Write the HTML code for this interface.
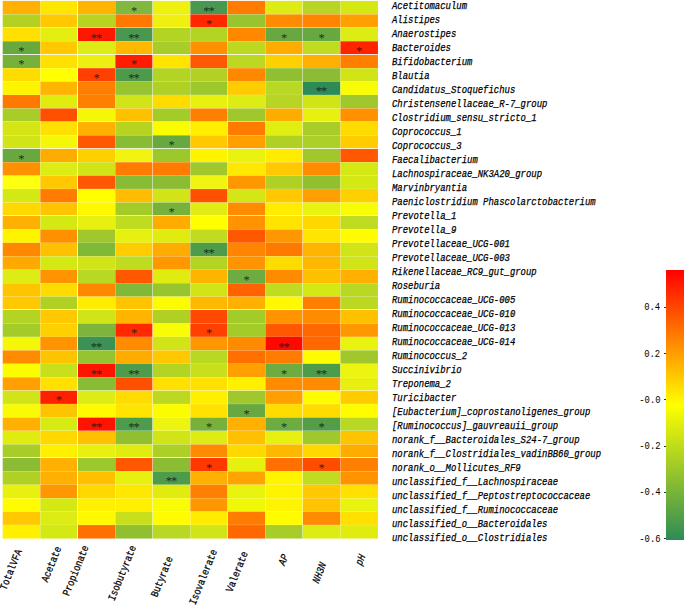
<!DOCTYPE html>
<html><head><meta charset="utf-8"><title>Correlation heatmap</title>
<style>
html,body{margin:0;padding:0;background:#fff;}
body{width:685px;height:606px;position:relative;overflow:hidden;font-family:"Liberation Mono",monospace;color:#000;}
#hm{position:absolute;left:0;top:0;}
.rl{position:absolute;left:391.8px;-webkit-text-stroke:0.25px #000;height:14px;line-height:14px;font-size:10.67px;font-style:italic;white-space:pre;transform:scaleX(.838);transform-origin:0 50%;}
.cl{position:absolute;-webkit-text-stroke:0.25px #000;height:12px;line-height:12px;font-size:10.67px;white-space:pre;transform-origin:100% 50%;}
.tk{position:absolute;right:24.5px;height:12px;line-height:12px;font-size:10.67px;white-space:pre;transform:scaleX(.8333);transform-origin:100% 50%;}
.tm{position:absolute;left:663.5px;width:2.5px;height:1px;background:#333;}
#cb{position:absolute;left:666px;top:269.7px;width:18px;height:270px;background:linear-gradient(to bottom,#ff0000 0%,#ffff00 50%,#2e8b57 100%);}
</style></head><body>
<svg id="hm" width="685" height="606" viewBox="0 0 685 606">
<rect x="2.70" y="0.90" width="37.57" height="13.49" fill="#ffb000"/><rect x="40.22" y="0.90" width="37.57" height="13.49" fill="#ffe600"/><rect x="77.74" y="0.90" width="37.57" height="13.49" fill="#ffb400"/><rect x="115.26" y="0.90" width="37.57" height="13.49" fill="#80b840"/><rect x="152.78" y="0.90" width="37.57" height="13.49" fill="#eef010"/><rect x="190.30" y="0.90" width="37.57" height="13.49" fill="#489850"/><rect x="227.82" y="0.90" width="37.57" height="13.49" fill="#ff7c00"/><rect x="265.34" y="0.90" width="37.57" height="13.49" fill="#dcec14"/><rect x="302.86" y="0.90" width="37.57" height="13.49" fill="#b8d424"/><rect x="340.38" y="0.90" width="37.57" height="13.49" fill="#d4e814"/>
<rect x="2.70" y="14.34" width="37.57" height="13.49" fill="#b4d020"/><rect x="40.22" y="14.34" width="37.57" height="13.49" fill="#ffc800"/><rect x="77.74" y="14.34" width="37.57" height="13.49" fill="#b8d420"/><rect x="115.26" y="14.34" width="37.57" height="13.49" fill="#ff7800"/><rect x="152.78" y="14.34" width="37.57" height="13.49" fill="#f0f010"/><rect x="190.30" y="14.34" width="37.57" height="13.49" fill="#ff2800"/><rect x="227.82" y="14.34" width="37.57" height="13.49" fill="#98c430"/><rect x="265.34" y="14.34" width="37.57" height="13.49" fill="#ff8c00"/><rect x="302.86" y="14.34" width="37.57" height="13.49" fill="#ff8400"/><rect x="340.38" y="14.34" width="37.57" height="13.49" fill="#ffa000"/>
<rect x="2.70" y="27.78" width="37.57" height="13.49" fill="#ffe000"/><rect x="40.22" y="27.78" width="37.57" height="13.49" fill="#e4ee10"/><rect x="77.74" y="27.78" width="37.57" height="13.49" fill="#ff1800"/><rect x="115.26" y="27.78" width="37.57" height="13.49" fill="#4a9850"/><rect x="152.78" y="27.78" width="37.57" height="13.49" fill="#b4d424"/><rect x="190.30" y="27.78" width="37.57" height="13.49" fill="#b4d424"/><rect x="227.82" y="27.78" width="37.57" height="13.49" fill="#ff8800"/><rect x="265.34" y="27.78" width="37.57" height="13.49" fill="#68a840"/><rect x="302.86" y="27.78" width="37.57" height="13.49" fill="#68a840"/><rect x="340.38" y="27.78" width="37.57" height="13.49" fill="#dcec14"/>
<rect x="2.70" y="41.22" width="37.57" height="13.49" fill="#68a840"/><rect x="40.22" y="41.22" width="37.57" height="13.49" fill="#ffc800"/><rect x="77.74" y="41.22" width="37.57" height="13.49" fill="#dcec14"/><rect x="115.26" y="41.22" width="37.57" height="13.49" fill="#ffb800"/><rect x="152.78" y="41.22" width="37.57" height="13.49" fill="#a8cc28"/><rect x="190.30" y="41.22" width="37.57" height="13.49" fill="#ff9000"/><rect x="227.82" y="41.22" width="37.57" height="13.49" fill="#bcd820"/><rect x="265.34" y="41.22" width="37.57" height="13.49" fill="#ffac00"/><rect x="302.86" y="41.22" width="37.57" height="13.49" fill="#c0dc20"/><rect x="340.38" y="41.22" width="37.57" height="13.49" fill="#ff2400"/>
<rect x="2.70" y="54.66" width="37.57" height="13.49" fill="#78b03c"/><rect x="40.22" y="54.66" width="37.57" height="13.49" fill="#ffe000"/><rect x="77.74" y="54.66" width="37.57" height="13.49" fill="#ecf010"/><rect x="115.26" y="54.66" width="37.57" height="13.49" fill="#ff1c00"/><rect x="152.78" y="54.66" width="37.57" height="13.49" fill="#ffe400"/><rect x="190.30" y="54.66" width="37.57" height="13.49" fill="#ff5800"/><rect x="227.82" y="54.66" width="37.57" height="13.49" fill="#bcd820"/><rect x="265.34" y="54.66" width="37.57" height="13.49" fill="#ffd000"/><rect x="302.86" y="54.66" width="37.57" height="13.49" fill="#ffb000"/><rect x="340.38" y="54.66" width="37.57" height="13.49" fill="#ff8000"/>
<rect x="2.70" y="68.10" width="37.57" height="13.49" fill="#ffdc00"/><rect x="40.22" y="68.10" width="37.57" height="13.49" fill="#ffff00"/><rect x="77.74" y="68.10" width="37.57" height="13.49" fill="#ff4000"/><rect x="115.26" y="68.10" width="37.57" height="13.49" fill="#4e9a4c"/><rect x="152.78" y="68.10" width="37.57" height="13.49" fill="#b4d424"/><rect x="190.30" y="68.10" width="37.57" height="13.49" fill="#b4d024"/><rect x="227.82" y="68.10" width="37.57" height="13.49" fill="#ff8800"/><rect x="265.34" y="68.10" width="37.57" height="13.49" fill="#90c030"/><rect x="302.86" y="68.10" width="37.57" height="13.49" fill="#8cbc34"/><rect x="340.38" y="68.10" width="37.57" height="13.49" fill="#d0e418"/>
<rect x="2.70" y="81.54" width="37.57" height="13.49" fill="#fff400"/><rect x="40.22" y="81.54" width="37.57" height="13.49" fill="#ffb400"/><rect x="77.74" y="81.54" width="37.57" height="13.49" fill="#ff8000"/><rect x="115.26" y="81.54" width="37.57" height="13.49" fill="#98c430"/><rect x="152.78" y="81.54" width="37.57" height="13.49" fill="#b0d024"/><rect x="190.30" y="81.54" width="37.57" height="13.49" fill="#9cc82c"/><rect x="227.82" y="81.54" width="37.57" height="13.49" fill="#ffcc00"/><rect x="265.34" y="81.54" width="37.57" height="13.49" fill="#b8d824"/><rect x="302.86" y="81.54" width="37.57" height="13.49" fill="#2e8b57"/><rect x="340.38" y="81.54" width="37.57" height="13.49" fill="#f8fc04"/>
<rect x="2.70" y="94.98" width="37.57" height="13.49" fill="#ff7800"/><rect x="40.22" y="94.98" width="37.57" height="13.49" fill="#e0ec10"/><rect x="77.74" y="94.98" width="37.57" height="13.49" fill="#ff8000"/><rect x="115.26" y="94.98" width="37.57" height="13.49" fill="#d0e418"/><rect x="152.78" y="94.98" width="37.57" height="13.49" fill="#ffdc00"/><rect x="190.30" y="94.98" width="37.57" height="13.49" fill="#e8f010"/><rect x="227.82" y="94.98" width="37.57" height="13.49" fill="#dcec14"/><rect x="265.34" y="94.98" width="37.57" height="13.49" fill="#b8d424"/><rect x="302.86" y="94.98" width="37.57" height="13.49" fill="#d0e418"/><rect x="340.38" y="94.98" width="37.57" height="13.49" fill="#a0c82c"/>
<rect x="2.70" y="108.42" width="37.57" height="13.49" fill="#a8cc28"/><rect x="40.22" y="108.42" width="37.57" height="13.49" fill="#ff5000"/><rect x="77.74" y="108.42" width="37.57" height="13.49" fill="#f4f808"/><rect x="115.26" y="108.42" width="37.57" height="13.49" fill="#ffc000"/><rect x="152.78" y="108.42" width="37.57" height="13.49" fill="#a4cc28"/><rect x="190.30" y="108.42" width="37.57" height="13.49" fill="#ff8000"/><rect x="227.82" y="108.42" width="37.57" height="13.49" fill="#a0c82c"/><rect x="265.34" y="108.42" width="37.57" height="13.49" fill="#ffac00"/><rect x="302.86" y="108.42" width="37.57" height="13.49" fill="#e8f010"/><rect x="340.38" y="108.42" width="37.57" height="13.49" fill="#ff9000"/>
<rect x="2.70" y="121.86" width="37.57" height="13.49" fill="#d4e414"/><rect x="40.22" y="121.86" width="37.57" height="13.49" fill="#ffe000"/><rect x="77.74" y="121.86" width="37.57" height="13.49" fill="#ffb000"/><rect x="115.26" y="121.86" width="37.57" height="13.49" fill="#b8d420"/><rect x="152.78" y="121.86" width="37.57" height="13.49" fill="#fcfc00"/><rect x="190.30" y="121.86" width="37.57" height="13.49" fill="#ffee00"/><rect x="227.82" y="121.86" width="37.57" height="13.49" fill="#ff7c00"/><rect x="265.34" y="121.86" width="37.57" height="13.49" fill="#e0ee10"/><rect x="302.86" y="121.86" width="37.57" height="13.49" fill="#a8cc28"/><rect x="340.38" y="121.86" width="37.57" height="13.49" fill="#ffdc00"/>
<rect x="2.70" y="135.30" width="37.57" height="13.49" fill="#d0e418"/><rect x="40.22" y="135.30" width="37.57" height="13.49" fill="#f4f808"/><rect x="77.74" y="135.30" width="37.57" height="13.49" fill="#ff5800"/><rect x="115.26" y="135.30" width="37.57" height="13.49" fill="#88bc34"/><rect x="152.78" y="135.30" width="37.57" height="13.49" fill="#68a840"/><rect x="190.30" y="135.30" width="37.57" height="13.49" fill="#ffc800"/><rect x="227.82" y="135.30" width="37.57" height="13.49" fill="#ffa000"/><rect x="265.34" y="135.30" width="37.57" height="13.49" fill="#b0d024"/><rect x="302.86" y="135.30" width="37.57" height="13.49" fill="#acd028"/><rect x="340.38" y="135.30" width="37.57" height="13.49" fill="#ffcc00"/>
<rect x="2.70" y="148.74" width="37.57" height="13.49" fill="#68a840"/><rect x="40.22" y="148.74" width="37.57" height="13.49" fill="#ffac00"/><rect x="77.74" y="148.74" width="37.57" height="13.49" fill="#ffd000"/><rect x="115.26" y="148.74" width="37.57" height="13.49" fill="#f0f410"/><rect x="152.78" y="148.74" width="37.57" height="13.49" fill="#9cc82c"/><rect x="190.30" y="148.74" width="37.57" height="13.49" fill="#fff400"/><rect x="227.82" y="148.74" width="37.57" height="13.49" fill="#e8f410"/><rect x="265.34" y="148.74" width="37.57" height="13.49" fill="#ffec00"/><rect x="302.86" y="148.74" width="37.57" height="13.49" fill="#a0c82c"/><rect x="340.38" y="148.74" width="37.57" height="13.49" fill="#ff5800"/>
<rect x="2.70" y="162.18" width="37.57" height="13.49" fill="#ff9000"/><rect x="40.22" y="162.18" width="37.57" height="13.49" fill="#dcec14"/><rect x="77.74" y="162.18" width="37.57" height="13.49" fill="#d0e418"/><rect x="115.26" y="162.18" width="37.57" height="13.49" fill="#ff7c00"/><rect x="152.78" y="162.18" width="37.57" height="13.49" fill="#ff7c00"/><rect x="190.30" y="162.18" width="37.57" height="13.49" fill="#a0c82c"/><rect x="227.82" y="162.18" width="37.57" height="13.49" fill="#ffe800"/><rect x="265.34" y="162.18" width="37.57" height="13.49" fill="#ffc800"/><rect x="302.86" y="162.18" width="37.57" height="13.49" fill="#ff8c00"/><rect x="340.38" y="162.18" width="37.57" height="13.49" fill="#d4e814"/>
<rect x="2.70" y="175.62" width="37.57" height="13.49" fill="#ffff10"/><rect x="40.22" y="175.62" width="37.57" height="13.49" fill="#ffc800"/><rect x="77.74" y="175.62" width="37.57" height="13.49" fill="#ff5800"/><rect x="115.26" y="175.62" width="37.57" height="13.49" fill="#88bc34"/><rect x="152.78" y="175.62" width="37.57" height="13.49" fill="#8cbc34"/><rect x="190.30" y="175.62" width="37.57" height="13.49" fill="#f0f410"/><rect x="227.82" y="175.62" width="37.57" height="13.49" fill="#ff9800"/><rect x="265.34" y="175.62" width="37.57" height="13.49" fill="#b0d024"/><rect x="302.86" y="175.62" width="37.57" height="13.49" fill="#90c030"/><rect x="340.38" y="175.62" width="37.57" height="13.49" fill="#d4e814"/>
<rect x="2.70" y="189.06" width="37.57" height="13.49" fill="#d4e814"/><rect x="40.22" y="189.06" width="37.57" height="13.49" fill="#ff7c00"/><rect x="77.74" y="189.06" width="37.57" height="13.49" fill="#ffff00"/><rect x="115.26" y="189.06" width="37.57" height="13.49" fill="#ffbc00"/><rect x="152.78" y="189.06" width="37.57" height="13.49" fill="#d0e418"/><rect x="190.30" y="189.06" width="37.57" height="13.49" fill="#ff5000"/><rect x="227.82" y="189.06" width="37.57" height="13.49" fill="#d4e616"/><rect x="265.34" y="189.06" width="37.57" height="13.49" fill="#ffc800"/><rect x="302.86" y="189.06" width="37.57" height="13.49" fill="#ffa000"/><rect x="340.38" y="189.06" width="37.57" height="13.49" fill="#ffd000"/>
<rect x="2.70" y="202.50" width="37.57" height="13.49" fill="#ffd800"/><rect x="40.22" y="202.50" width="37.57" height="13.49" fill="#ffc400"/><rect x="77.74" y="202.50" width="37.57" height="13.49" fill="#fff800"/><rect x="115.26" y="202.50" width="37.57" height="13.49" fill="#a4cc28"/><rect x="152.78" y="202.50" width="37.57" height="13.49" fill="#78b03c"/><rect x="190.30" y="202.50" width="37.57" height="13.49" fill="#e0ec14"/><rect x="227.82" y="202.50" width="37.57" height="13.49" fill="#ff8c00"/><rect x="265.34" y="202.50" width="37.57" height="13.49" fill="#ffec00"/><rect x="302.86" y="202.50" width="37.57" height="13.49" fill="#e8f410"/><rect x="340.38" y="202.50" width="37.57" height="13.49" fill="#f8fc04"/>
<rect x="2.70" y="215.94" width="37.57" height="13.49" fill="#ffb000"/><rect x="40.22" y="215.94" width="37.57" height="13.49" fill="#d4e814"/><rect x="77.74" y="215.94" width="37.57" height="13.49" fill="#e8f010"/><rect x="115.26" y="215.94" width="37.57" height="13.49" fill="#c0dc20"/><rect x="152.78" y="215.94" width="37.57" height="13.49" fill="#ffac00"/><rect x="190.30" y="215.94" width="37.57" height="13.49" fill="#ffff00"/><rect x="227.82" y="215.94" width="37.57" height="13.49" fill="#ff9400"/><rect x="265.34" y="215.94" width="37.57" height="13.49" fill="#ffe400"/><rect x="302.86" y="215.94" width="37.57" height="13.49" fill="#ffd800"/><rect x="340.38" y="215.94" width="37.57" height="13.49" fill="#c0dc20"/>
<rect x="2.70" y="229.38" width="37.57" height="13.49" fill="#fff400"/><rect x="40.22" y="229.38" width="37.57" height="13.49" fill="#ff9000"/><rect x="77.74" y="229.38" width="37.57" height="13.49" fill="#a0c82c"/><rect x="115.26" y="229.38" width="37.57" height="13.49" fill="#e8f010"/><rect x="152.78" y="229.38" width="37.57" height="13.49" fill="#e0ec10"/><rect x="190.30" y="229.38" width="37.57" height="13.49" fill="#c0dc20"/><rect x="227.82" y="229.38" width="37.57" height="13.49" fill="#ff5800"/><rect x="265.34" y="229.38" width="37.57" height="13.49" fill="#ff9800"/><rect x="302.86" y="229.38" width="37.57" height="13.49" fill="#ffe600"/><rect x="340.38" y="229.38" width="37.57" height="13.49" fill="#fffc00"/>
<rect x="2.70" y="242.82" width="37.57" height="13.49" fill="#ff8800"/><rect x="40.22" y="242.82" width="37.57" height="13.49" fill="#ffc000"/><rect x="77.74" y="242.82" width="37.57" height="13.49" fill="#80b838"/><rect x="115.26" y="242.82" width="37.57" height="13.49" fill="#ffcc00"/><rect x="152.78" y="242.82" width="37.57" height="13.49" fill="#ffac00"/><rect x="190.30" y="242.82" width="37.57" height="13.49" fill="#4c9c4c"/><rect x="227.82" y="242.82" width="37.57" height="13.49" fill="#ff8400"/><rect x="265.34" y="242.82" width="37.57" height="13.49" fill="#ff7800"/><rect x="302.86" y="242.82" width="37.57" height="13.49" fill="#ffb400"/><rect x="340.38" y="242.82" width="37.57" height="13.49" fill="#d0e418"/>
<rect x="2.70" y="256.26" width="37.57" height="13.49" fill="#ffa800"/><rect x="40.22" y="256.26" width="37.57" height="13.49" fill="#d4e814"/><rect x="77.74" y="256.26" width="37.57" height="13.49" fill="#d0e418"/><rect x="115.26" y="256.26" width="37.57" height="13.49" fill="#c0dc20"/><rect x="152.78" y="256.26" width="37.57" height="13.49" fill="#ff9800"/><rect x="190.30" y="256.26" width="37.57" height="13.49" fill="#b4d424"/><rect x="227.82" y="256.26" width="37.57" height="13.49" fill="#ff9400"/><rect x="265.34" y="256.26" width="37.57" height="13.49" fill="#ffdc00"/><rect x="302.86" y="256.26" width="37.57" height="13.49" fill="#ffb800"/><rect x="340.38" y="256.26" width="37.57" height="13.49" fill="#d0e418"/>
<rect x="2.70" y="269.70" width="37.57" height="13.49" fill="#dcec14"/><rect x="40.22" y="269.70" width="37.57" height="13.49" fill="#ff9400"/><rect x="77.74" y="269.70" width="37.57" height="13.49" fill="#b8d824"/><rect x="115.26" y="269.70" width="37.57" height="13.49" fill="#ff5800"/><rect x="152.78" y="269.70" width="37.57" height="13.49" fill="#e0ec10"/><rect x="190.30" y="269.70" width="37.57" height="13.49" fill="#ffb400"/><rect x="227.82" y="269.70" width="37.57" height="13.49" fill="#6cac40"/><rect x="265.34" y="269.70" width="37.57" height="13.49" fill="#ff8c00"/><rect x="302.86" y="269.70" width="37.57" height="13.49" fill="#ffc000"/><rect x="340.38" y="269.70" width="37.57" height="13.49" fill="#ffb000"/>
<rect x="2.70" y="283.14" width="37.57" height="13.49" fill="#ffc400"/><rect x="40.22" y="283.14" width="37.57" height="13.49" fill="#ffdc00"/><rect x="77.74" y="283.14" width="37.57" height="13.49" fill="#ff8800"/><rect x="115.26" y="283.14" width="37.57" height="13.49" fill="#80b838"/><rect x="152.78" y="283.14" width="37.57" height="13.49" fill="#98c430"/><rect x="190.30" y="283.14" width="37.57" height="13.49" fill="#d0e418"/><rect x="227.82" y="283.14" width="37.57" height="13.49" fill="#ff6200"/><rect x="265.34" y="283.14" width="37.57" height="13.49" fill="#c0dc20"/><rect x="302.86" y="283.14" width="37.57" height="13.49" fill="#d4e814"/><rect x="340.38" y="283.14" width="37.57" height="13.49" fill="#b8d824"/>
<rect x="2.70" y="296.58" width="37.57" height="13.49" fill="#ffc800"/><rect x="40.22" y="296.58" width="37.57" height="13.49" fill="#b0d024"/><rect x="77.74" y="296.58" width="37.57" height="13.49" fill="#ffec00"/><rect x="115.26" y="296.58" width="37.57" height="13.49" fill="#ffc400"/><rect x="152.78" y="296.58" width="37.57" height="13.49" fill="#fcfc00"/><rect x="190.30" y="296.58" width="37.57" height="13.49" fill="#ffb800"/><rect x="227.82" y="296.58" width="37.57" height="13.49" fill="#ffb000"/><rect x="265.34" y="296.58" width="37.57" height="13.49" fill="#fff800"/><rect x="302.86" y="296.58" width="37.57" height="13.49" fill="#ff8000"/><rect x="340.38" y="296.58" width="37.57" height="13.49" fill="#bcd820"/>
<rect x="2.70" y="310.02" width="37.57" height="13.49" fill="#b4d424"/><rect x="40.22" y="310.02" width="37.57" height="13.49" fill="#ffc800"/><rect x="77.74" y="310.02" width="37.57" height="13.49" fill="#d0e418"/><rect x="115.26" y="310.02" width="37.57" height="13.49" fill="#ffb400"/><rect x="152.78" y="310.02" width="37.57" height="13.49" fill="#b0d024"/><rect x="190.30" y="310.02" width="37.57" height="13.49" fill="#ff4800"/><rect x="227.82" y="310.02" width="37.57" height="13.49" fill="#a4cc28"/><rect x="265.34" y="310.02" width="37.57" height="13.49" fill="#ff9400"/><rect x="302.86" y="310.02" width="37.57" height="13.49" fill="#ff8c00"/><rect x="340.38" y="310.02" width="37.57" height="13.49" fill="#ffc000"/>
<rect x="2.70" y="323.46" width="37.57" height="13.49" fill="#a4cc28"/><rect x="40.22" y="323.46" width="37.57" height="13.49" fill="#ffd000"/><rect x="77.74" y="323.46" width="37.57" height="13.49" fill="#7cb43c"/><rect x="115.26" y="323.46" width="37.57" height="13.49" fill="#ff2800"/><rect x="152.78" y="323.46" width="37.57" height="13.49" fill="#f8fc04"/><rect x="190.30" y="323.46" width="37.57" height="13.49" fill="#ff4000"/><rect x="227.82" y="323.46" width="37.57" height="13.49" fill="#a4cc28"/><rect x="265.34" y="323.46" width="37.57" height="13.49" fill="#ff5800"/><rect x="302.86" y="323.46" width="37.57" height="13.49" fill="#ff6800"/><rect x="340.38" y="323.46" width="37.57" height="13.49" fill="#ff9800"/>
<rect x="2.70" y="336.90" width="37.57" height="13.49" fill="#f4f808"/><rect x="40.22" y="336.90" width="37.57" height="13.49" fill="#ff9400"/><rect x="77.74" y="336.90" width="37.57" height="13.49" fill="#3c9256"/><rect x="115.26" y="336.90" width="37.57" height="13.49" fill="#ff8c00"/><rect x="152.78" y="336.90" width="37.57" height="13.49" fill="#d0e418"/><rect x="190.30" y="336.90" width="37.57" height="13.49" fill="#ff9800"/><rect x="227.82" y="336.90" width="37.57" height="13.49" fill="#ff8c00"/><rect x="265.34" y="336.90" width="37.57" height="13.49" fill="#ff0800"/><rect x="302.86" y="336.90" width="37.57" height="13.49" fill="#ff6800"/><rect x="340.38" y="336.90" width="37.57" height="13.49" fill="#e8f410"/>
<rect x="2.70" y="350.34" width="37.57" height="13.49" fill="#ff8c00"/><rect x="40.22" y="350.34" width="37.57" height="13.49" fill="#ffc400"/><rect x="77.74" y="350.34" width="37.57" height="13.49" fill="#96c430"/><rect x="115.26" y="350.34" width="37.57" height="13.49" fill="#ffac00"/><rect x="152.78" y="350.34" width="37.57" height="13.49" fill="#ffc800"/><rect x="190.30" y="350.34" width="37.57" height="13.49" fill="#b8d824"/><rect x="227.82" y="350.34" width="37.57" height="13.49" fill="#ff7000"/><rect x="265.34" y="350.34" width="37.57" height="13.49" fill="#ff7c00"/><rect x="302.86" y="350.34" width="37.57" height="13.49" fill="#fffc00"/><rect x="340.38" y="350.34" width="37.57" height="13.49" fill="#a0c82c"/>
<rect x="2.70" y="363.78" width="37.57" height="13.49" fill="#fcfc00"/><rect x="40.22" y="363.78" width="37.57" height="13.49" fill="#c8e01c"/><rect x="77.74" y="363.78" width="37.57" height="13.49" fill="#ff1400"/><rect x="115.26" y="363.78" width="37.57" height="13.49" fill="#4c9c4c"/><rect x="152.78" y="363.78" width="37.57" height="13.49" fill="#b4d424"/><rect x="190.30" y="363.78" width="37.57" height="13.49" fill="#c8e01c"/><rect x="227.82" y="363.78" width="37.57" height="13.49" fill="#ffa000"/><rect x="265.34" y="363.78" width="37.57" height="13.49" fill="#6cac40"/><rect x="302.86" y="363.78" width="37.57" height="13.49" fill="#4c9c4c"/><rect x="340.38" y="363.78" width="37.57" height="13.49" fill="#ecf410"/>
<rect x="2.70" y="377.22" width="37.57" height="13.49" fill="#ffa000"/><rect x="40.22" y="377.22" width="37.57" height="13.49" fill="#ffe000"/><rect x="77.74" y="377.22" width="37.57" height="13.49" fill="#88bc34"/><rect x="115.26" y="377.22" width="37.57" height="13.49" fill="#ff5000"/><rect x="152.78" y="377.22" width="37.57" height="13.49" fill="#ffe000"/><rect x="190.30" y="377.22" width="37.57" height="13.49" fill="#ffe000"/><rect x="227.82" y="377.22" width="37.57" height="13.49" fill="#fff000"/><rect x="265.34" y="377.22" width="37.57" height="13.49" fill="#ff8c00"/><rect x="302.86" y="377.22" width="37.57" height="13.49" fill="#ff8c00"/><rect x="340.38" y="377.22" width="37.57" height="13.49" fill="#e6ef10"/>
<rect x="2.70" y="390.66" width="37.57" height="13.49" fill="#d0e418"/><rect x="40.22" y="390.66" width="37.57" height="13.49" fill="#ff2000"/><rect x="77.74" y="390.66" width="37.57" height="13.49" fill="#dcec14"/><rect x="115.26" y="390.66" width="37.57" height="13.49" fill="#ffdc00"/><rect x="152.78" y="390.66" width="37.57" height="13.49" fill="#bcd820"/><rect x="190.30" y="390.66" width="37.57" height="13.49" fill="#fff000"/><rect x="227.82" y="390.66" width="37.57" height="13.49" fill="#a0c82c"/><rect x="265.34" y="390.66" width="37.57" height="13.49" fill="#ffa000"/><rect x="302.86" y="390.66" width="37.57" height="13.49" fill="#fffc00"/><rect x="340.38" y="390.66" width="37.57" height="13.49" fill="#ffcc00"/>
<rect x="2.70" y="404.10" width="37.57" height="13.49" fill="#f8fa06"/><rect x="40.22" y="404.10" width="37.57" height="13.49" fill="#ffc400"/><rect x="77.74" y="404.10" width="37.57" height="13.49" fill="#fffa00"/><rect x="115.26" y="404.10" width="37.57" height="13.49" fill="#ffe400"/><rect x="152.78" y="404.10" width="37.57" height="13.49" fill="#fcfc00"/><rect x="190.30" y="404.10" width="37.57" height="13.49" fill="#ffe200"/><rect x="227.82" y="404.10" width="37.57" height="13.49" fill="#68a840"/><rect x="265.34" y="404.10" width="37.57" height="13.49" fill="#ffdc00"/><rect x="302.86" y="404.10" width="37.57" height="13.49" fill="#ffdc00"/><rect x="340.38" y="404.10" width="37.57" height="13.49" fill="#fffc00"/>
<rect x="2.70" y="417.54" width="37.57" height="13.49" fill="#ffb000"/><rect x="40.22" y="417.54" width="37.57" height="13.49" fill="#d8ea14"/><rect x="77.74" y="417.54" width="37.57" height="13.49" fill="#ff1400"/><rect x="115.26" y="417.54" width="37.57" height="13.49" fill="#4c9c4c"/><rect x="152.78" y="417.54" width="37.57" height="13.49" fill="#ecf410"/><rect x="190.30" y="417.54" width="37.57" height="13.49" fill="#78b03c"/><rect x="227.82" y="417.54" width="37.57" height="13.49" fill="#ffb000"/><rect x="265.34" y="417.54" width="37.57" height="13.49" fill="#6cac40"/><rect x="302.86" y="417.54" width="37.57" height="13.49" fill="#549c48"/><rect x="340.38" y="417.54" width="37.57" height="13.49" fill="#b8d824"/>
<rect x="2.70" y="430.98" width="37.57" height="13.49" fill="#e0ec10"/><rect x="40.22" y="430.98" width="37.57" height="13.49" fill="#ffd800"/><rect x="77.74" y="430.98" width="37.57" height="13.49" fill="#ffc000"/><rect x="115.26" y="430.98" width="37.57" height="13.49" fill="#90c030"/><rect x="152.78" y="430.98" width="37.57" height="13.49" fill="#d0e418"/><rect x="190.30" y="430.98" width="37.57" height="13.49" fill="#dcec14"/><rect x="227.82" y="430.98" width="37.57" height="13.49" fill="#ffc000"/><rect x="265.34" y="430.98" width="37.57" height="13.49" fill="#e8f010"/><rect x="302.86" y="430.98" width="37.57" height="13.49" fill="#a0c82c"/><rect x="340.38" y="430.98" width="37.57" height="13.49" fill="#ffc400"/>
<rect x="2.70" y="444.42" width="37.57" height="13.49" fill="#a8cc28"/><rect x="40.22" y="444.42" width="37.57" height="13.49" fill="#fff000"/><rect x="77.74" y="444.42" width="37.57" height="13.49" fill="#e8f010"/><rect x="115.26" y="444.42" width="37.57" height="13.49" fill="#e0ec10"/><rect x="152.78" y="444.42" width="37.57" height="13.49" fill="#acd026"/><rect x="190.30" y="444.42" width="37.57" height="13.49" fill="#ff8c00"/><rect x="227.82" y="444.42" width="37.57" height="13.49" fill="#ffd800"/><rect x="265.34" y="444.42" width="37.57" height="13.49" fill="#ffb800"/><rect x="302.86" y="444.42" width="37.57" height="13.49" fill="#ffd800"/><rect x="340.38" y="444.42" width="37.57" height="13.49" fill="#ffac00"/>
<rect x="2.70" y="457.86" width="37.57" height="13.49" fill="#8cbc34"/><rect x="40.22" y="457.86" width="37.57" height="13.49" fill="#ffb000"/><rect x="77.74" y="457.86" width="37.57" height="13.49" fill="#9cc82c"/><rect x="115.26" y="457.86" width="37.57" height="13.49" fill="#ff5800"/><rect x="152.78" y="457.86" width="37.57" height="13.49" fill="#8cbc34"/><rect x="190.30" y="457.86" width="37.57" height="13.49" fill="#ff3800"/><rect x="227.82" y="457.86" width="37.57" height="13.49" fill="#e8f010"/><rect x="265.34" y="457.86" width="37.57" height="13.49" fill="#ff7000"/><rect x="302.86" y="457.86" width="37.57" height="13.49" fill="#ff4c00"/><rect x="340.38" y="457.86" width="37.57" height="13.49" fill="#ff8000"/>
<rect x="2.70" y="471.30" width="37.57" height="13.49" fill="#b0d024"/><rect x="40.22" y="471.30" width="37.57" height="13.49" fill="#ffb000"/><rect x="77.74" y="471.30" width="37.57" height="13.49" fill="#ffc000"/><rect x="115.26" y="471.30" width="37.57" height="13.49" fill="#e8f010"/><rect x="152.78" y="471.30" width="37.57" height="13.49" fill="#4c9c4c"/><rect x="190.30" y="471.30" width="37.57" height="13.49" fill="#ffb000"/><rect x="227.82" y="471.30" width="37.57" height="13.49" fill="#ffa400"/><rect x="265.34" y="471.30" width="37.57" height="13.49" fill="#fff400"/><rect x="302.86" y="471.30" width="37.57" height="13.49" fill="#c0dc20"/><rect x="340.38" y="471.30" width="37.57" height="13.49" fill="#ff9400"/>
<rect x="2.70" y="484.74" width="37.57" height="13.49" fill="#e8f010"/><rect x="40.22" y="484.74" width="37.57" height="13.49" fill="#ff9800"/><rect x="77.74" y="484.74" width="37.57" height="13.49" fill="#ffd800"/><rect x="115.26" y="484.74" width="37.57" height="13.49" fill="#ffe800"/><rect x="152.78" y="484.74" width="37.57" height="13.49" fill="#e0ec10"/><rect x="190.30" y="484.74" width="37.57" height="13.49" fill="#ff8000"/><rect x="227.82" y="484.74" width="37.57" height="13.49" fill="#e8f410"/><rect x="265.34" y="484.74" width="37.57" height="13.49" fill="#fff400"/><rect x="302.86" y="484.74" width="37.57" height="13.49" fill="#ffc800"/><rect x="340.38" y="484.74" width="37.57" height="13.49" fill="#ffe000"/>
<rect x="2.70" y="498.18" width="37.57" height="13.49" fill="#fffc00"/><rect x="40.22" y="498.18" width="37.57" height="13.49" fill="#d4e814"/><rect x="77.74" y="498.18" width="37.57" height="13.49" fill="#fff000"/><rect x="115.26" y="498.18" width="37.57" height="13.49" fill="#fff000"/><rect x="152.78" y="498.18" width="37.57" height="13.49" fill="#f8fc04"/><rect x="190.30" y="498.18" width="37.57" height="13.49" fill="#ff9800"/><rect x="227.82" y="498.18" width="37.57" height="13.49" fill="#f0f808"/><rect x="265.34" y="498.18" width="37.57" height="13.49" fill="#fff400"/><rect x="302.86" y="498.18" width="37.57" height="13.49" fill="#ffc400"/><rect x="340.38" y="498.18" width="37.57" height="13.49" fill="#e8f410"/>
<rect x="2.70" y="511.62" width="37.57" height="13.49" fill="#ffc800"/><rect x="40.22" y="511.62" width="37.57" height="13.49" fill="#dcec14"/><rect x="77.74" y="511.62" width="37.57" height="13.49" fill="#fff800"/><rect x="115.26" y="511.62" width="37.57" height="13.49" fill="#c8e01c"/><rect x="152.78" y="511.62" width="37.57" height="13.49" fill="#fffc00"/><rect x="190.30" y="511.62" width="37.57" height="13.49" fill="#ffec00"/><rect x="227.82" y="511.62" width="37.57" height="13.49" fill="#ff7c00"/><rect x="265.34" y="511.62" width="37.57" height="13.49" fill="#fffc00"/><rect x="302.86" y="511.62" width="37.57" height="13.49" fill="#ff8c00"/><rect x="340.38" y="511.62" width="37.57" height="13.49" fill="#ffe000"/>
<rect x="2.70" y="525.06" width="37.57" height="13.49" fill="#fff000"/><rect x="40.22" y="525.06" width="37.57" height="13.49" fill="#d4e814"/><rect x="77.74" y="525.06" width="37.57" height="13.49" fill="#ff7000"/><rect x="115.26" y="525.06" width="37.57" height="13.49" fill="#90c030"/><rect x="152.78" y="525.06" width="37.57" height="13.49" fill="#b8d824"/><rect x="190.30" y="525.06" width="37.57" height="13.49" fill="#d0e418"/><rect x="227.82" y="525.06" width="37.57" height="13.49" fill="#ff6800"/><rect x="265.34" y="525.06" width="37.57" height="13.49" fill="#a8cc28"/><rect x="302.86" y="525.06" width="37.57" height="13.49" fill="#dcec14"/><rect x="340.38" y="525.06" width="37.57" height="13.49" fill="#e0ec10"/>
<g fill="#fff">
<rect x="40.00" y="0.90" width="1" height="537.60" fill-opacity="0.12"/><rect x="77.00" y="0.90" width="1" height="537.60" fill-opacity="0.85"/><rect x="115.00" y="0.90" width="1" height="537.60" fill-opacity="0.12"/><rect x="152.00" y="0.90" width="1" height="537.60" fill-opacity="0.45"/><rect x="190.00" y="0.90" width="1" height="537.60" fill-opacity="0.12"/><rect x="227.00" y="0.90" width="1" height="537.60" fill-opacity="0.45"/><rect x="265.00" y="0.90" width="1" height="537.60" fill-opacity="0.12"/><rect x="302.00" y="0.90" width="1" height="537.60" fill-opacity="0.45"/><rect x="340.00" y="0.90" width="1" height="537.60" fill-opacity="0.12"/>
<rect x="2.70" y="14.00" width="375.20" height="1" fill-opacity="0.10"/><rect x="2.70" y="27.00" width="375.20" height="1" fill-opacity="0.45"/><rect x="2.70" y="41.00" width="375.20" height="1" fill-opacity="0.10"/><rect x="2.70" y="54.00" width="375.20" height="1" fill-opacity="0.80"/><rect x="2.70" y="68.00" width="375.20" height="1" fill-opacity="0.10"/><rect x="2.70" y="81.00" width="375.20" height="1" fill-opacity="0.10"/><rect x="2.70" y="94.00" width="375.20" height="1" fill-opacity="0.10"/><rect x="2.70" y="108.00" width="375.20" height="1" fill-opacity="0.10"/><rect x="2.70" y="121.00" width="375.20" height="1" fill-opacity="0.45"/><rect x="2.70" y="135.00" width="375.20" height="1" fill-opacity="0.10"/><rect x="2.70" y="148.00" width="375.20" height="1" fill-opacity="0.75"/><rect x="2.70" y="162.00" width="375.20" height="1" fill-opacity="0.10"/><rect x="2.70" y="175.00" width="375.20" height="1" fill-opacity="0.10"/><rect x="2.70" y="188.00" width="375.20" height="1" fill-opacity="0.10"/><rect x="2.70" y="202.00" width="375.20" height="1" fill-opacity="0.10"/><rect x="2.70" y="215.00" width="375.20" height="1" fill-opacity="0.70"/><rect x="2.70" y="229.00" width="375.20" height="1" fill-opacity="0.10"/><rect x="2.70" y="242.00" width="375.20" height="1" fill-opacity="0.10"/><rect x="2.70" y="256.00" width="375.20" height="1" fill-opacity="0.10"/><rect x="2.70" y="269.00" width="375.20" height="1" fill-opacity="0.10"/><rect x="2.70" y="283.00" width="375.20" height="1" fill-opacity="0.10"/><rect x="2.70" y="296.00" width="375.20" height="1" fill-opacity="0.10"/><rect x="2.70" y="309.00" width="375.20" height="1" fill-opacity="0.75"/><rect x="2.70" y="323.00" width="375.20" height="1" fill-opacity="0.10"/><rect x="2.70" y="336.00" width="375.20" height="1" fill-opacity="0.10"/><rect x="2.70" y="350.00" width="375.20" height="1" fill-opacity="0.10"/><rect x="2.70" y="363.00" width="375.20" height="1" fill-opacity="0.10"/><rect x="2.70" y="377.00" width="375.20" height="1" fill-opacity="0.10"/><rect x="2.70" y="390.00" width="375.20" height="1" fill-opacity="0.40"/><rect x="2.70" y="403.00" width="375.20" height="1" fill-opacity="0.10"/><rect x="2.70" y="417.00" width="375.20" height="1" fill-opacity="0.10"/><rect x="2.70" y="430.00" width="375.20" height="1" fill-opacity="0.30"/><rect x="2.70" y="444.00" width="375.20" height="1" fill-opacity="0.10"/><rect x="2.70" y="457.00" width="375.20" height="1" fill-opacity="0.80"/><rect x="2.70" y="471.00" width="375.20" height="1" fill-opacity="0.10"/><rect x="2.70" y="484.00" width="375.20" height="1" fill-opacity="0.10"/><rect x="2.70" y="498.00" width="375.20" height="1" fill-opacity="0.10"/><rect x="2.70" y="511.00" width="375.20" height="1" fill-opacity="0.10"/><rect x="2.70" y="524.00" width="375.20" height="1" fill-opacity="0.10"/>
</g>
<g font-family="Liberation Serif, serif" font-size="12.5" text-anchor="middle" fill="#1a1a1a" fill-opacity="0.9">
<text x="134.02" y="14.72" textLength="5.8" lengthAdjust="spacing">*</text>
<text x="209.06" y="14.72" textLength="11.5" lengthAdjust="spacing">**</text>
<text x="209.06" y="28.16" textLength="5.8" lengthAdjust="spacing">*</text>
<text x="96.50" y="41.60" textLength="11.5" lengthAdjust="spacing">**</text>
<text x="134.02" y="41.60" textLength="11.5" lengthAdjust="spacing">**</text>
<text x="284.10" y="41.60" textLength="5.8" lengthAdjust="spacing">*</text>
<text x="321.62" y="41.60" textLength="5.8" lengthAdjust="spacing">*</text>
<text x="21.46" y="55.04" textLength="5.8" lengthAdjust="spacing">*</text>
<text x="359.14" y="55.04" textLength="5.8" lengthAdjust="spacing">*</text>
<text x="21.46" y="68.48" textLength="5.8" lengthAdjust="spacing">*</text>
<text x="134.02" y="68.48" textLength="5.8" lengthAdjust="spacing">*</text>
<text x="96.50" y="81.92" textLength="5.8" lengthAdjust="spacing">*</text>
<text x="134.02" y="81.92" textLength="11.5" lengthAdjust="spacing">**</text>
<text x="321.62" y="95.36" textLength="11.5" lengthAdjust="spacing">**</text>
<text x="171.54" y="149.12" textLength="5.8" lengthAdjust="spacing">*</text>
<text x="21.46" y="162.56" textLength="5.8" lengthAdjust="spacing">*</text>
<text x="171.54" y="216.32" textLength="5.8" lengthAdjust="spacing">*</text>
<text x="209.06" y="256.64" textLength="11.5" lengthAdjust="spacing">**</text>
<text x="246.58" y="283.52" textLength="5.8" lengthAdjust="spacing">*</text>
<text x="134.02" y="337.28" textLength="5.8" lengthAdjust="spacing">*</text>
<text x="209.06" y="337.28" textLength="5.8" lengthAdjust="spacing">*</text>
<text x="96.50" y="350.72" textLength="11.5" lengthAdjust="spacing">**</text>
<text x="284.10" y="350.72" textLength="11.5" lengthAdjust="spacing">**</text>
<text x="96.50" y="377.60" textLength="11.5" lengthAdjust="spacing">**</text>
<text x="134.02" y="377.60" textLength="11.5" lengthAdjust="spacing">**</text>
<text x="284.10" y="377.60" textLength="5.8" lengthAdjust="spacing">*</text>
<text x="321.62" y="377.60" textLength="11.5" lengthAdjust="spacing">**</text>
<text x="58.98" y="404.48" textLength="5.8" lengthAdjust="spacing">*</text>
<text x="246.58" y="417.92" textLength="5.8" lengthAdjust="spacing">*</text>
<text x="96.50" y="431.36" textLength="11.5" lengthAdjust="spacing">**</text>
<text x="134.02" y="431.36" textLength="11.5" lengthAdjust="spacing">**</text>
<text x="209.06" y="431.36" textLength="5.8" lengthAdjust="spacing">*</text>
<text x="284.10" y="431.36" textLength="5.8" lengthAdjust="spacing">*</text>
<text x="321.62" y="431.36" textLength="5.8" lengthAdjust="spacing">*</text>
<text x="209.06" y="471.68" textLength="5.8" lengthAdjust="spacing">*</text>
<text x="321.62" y="471.68" textLength="5.8" lengthAdjust="spacing">*</text>
<text x="171.54" y="485.12" textLength="11.5" lengthAdjust="spacing">**</text>
</g>
</svg>
<div class="rl" style="top:-1.40px">Acetitomaculum</div>
<div class="rl" style="top:12.61px">Alistipes</div>
<div class="rl" style="top:26.62px">Anaerostipes</div>
<div class="rl" style="top:40.62px">Bacteroides</div>
<div class="rl" style="top:54.63px">Bifidobacterium</div>
<div class="rl" style="top:68.64px">Blautia</div>
<div class="rl" style="top:82.65px">Candidatus_Stoquefichus</div>
<div class="rl" style="top:96.66px">Christensenellaceae_R-7_group</div>
<div class="rl" style="top:110.66px">Clostridium_sensu_stricto_1</div>
<div class="rl" style="top:124.67px">Coprococcus_1</div>
<div class="rl" style="top:138.68px">Coprococcus_3</div>
<div class="rl" style="top:152.69px">Faecalibacterium</div>
<div class="rl" style="top:166.70px">Lachnospiraceae_NK3A20_group</div>
<div class="rl" style="top:180.70px">Marvinbryantia</div>
<div class="rl" style="top:194.71px">Paeniclostridium Phascolarctobacterium</div>
<div class="rl" style="top:208.72px">Prevotella_1</div>
<div class="rl" style="top:222.73px">Prevotella_9</div>
<div class="rl" style="top:236.74px">Prevotellaceae_UCG-001</div>
<div class="rl" style="top:250.74px">Prevotellaceae_UCG-003</div>
<div class="rl" style="top:264.75px">Rikenellaceae_RC9_gut_group</div>
<div class="rl" style="top:278.76px">Roseburia</div>
<div class="rl" style="top:292.77px">Ruminococcaceae_UCG-005</div>
<div class="rl" style="top:306.78px">Ruminococcaceae_UCG-010</div>
<div class="rl" style="top:320.78px">Ruminococcaceae_UCG-013</div>
<div class="rl" style="top:334.79px">Ruminococcaceae_UCG-014</div>
<div class="rl" style="top:348.80px">Ruminococcus_2</div>
<div class="rl" style="top:362.81px">Succinivibrio</div>
<div class="rl" style="top:376.82px">Treponema_2</div>
<div class="rl" style="top:390.82px">Turicibacter</div>
<div class="rl" style="top:404.83px">[Eubacterium]_coprostanoligenes_group</div>
<div class="rl" style="top:418.84px">[Ruminococcus]_gauvreauii_group</div>
<div class="rl" style="top:432.85px">norank_f__Bacteroidales_S24-7_group</div>
<div class="rl" style="top:446.86px">norank_f__Clostridiales_vadinBB60_group</div>
<div class="rl" style="top:460.86px">norank_o__Mollicutes_RF9</div>
<div class="rl" style="top:474.87px">unclassified_f__Lachnospiraceae</div>
<div class="rl" style="top:488.88px">unclassified_f__Peptostreptococcaceae</div>
<div class="rl" style="top:502.89px">unclassified_f__Ruminococcaceae</div>
<div class="rl" style="top:516.90px">unclassified_o__Bacteroidales</div>
<div class="rl" style="top:530.90px">unclassified_o__Clostridiales</div>
<div class="cl" style="left:-31.70px;top:543.80px;width:51.2px;text-align:right;transform:rotate(-68deg) scaleX(.8333)">TotalVFA</div>
<div class="cl" style="left:14.20px;top:541.20px;width:44.8px;text-align:right;transform:rotate(-68deg) scaleX(.8333)">Acetate</div>
<div class="cl" style="left:22.00px;top:540.30px;width:64.0px;text-align:right;transform:rotate(-68deg) scaleX(.8333)">Propionate</div>
<div class="cl" style="left:62.90px;top:540.20px;width:70.4px;text-align:right;transform:rotate(-68deg) scaleX(.8333)">Isobutyrate</div>
<div class="cl" style="left:119.30px;top:550.80px;width:51.2px;text-align:right;transform:rotate(-68deg) scaleX(.8333)">Butyrate</div>
<div class="cl" style="left:143.60px;top:543.60px;width:70.4px;text-align:right;transform:rotate(-68deg) scaleX(.8333)">Isovalerate</div>
<div class="cl" style="left:193.80px;top:546.30px;width:51.2px;text-align:right;transform:rotate(-68deg) scaleX(.8333)">Valerate</div>
<div class="cl" style="left:273.20px;top:548.60px;width:12.8px;text-align:right;transform:rotate(-68deg) scaleX(.8333);font-style:italic">AP</div>
<div class="cl" style="left:297.90px;top:556.50px;width:25.6px;text-align:right;transform:rotate(-68deg) scaleX(.8333);font-style:italic">NH3N</div>
<div class="cl" style="left:349.50px;top:549.30px;width:12.8px;text-align:right;transform:rotate(-68deg) scaleX(.8333);font-style:italic">pH</div>
<div id="cb"></div>
<div class="tk" style="top:301.2px">0.4</div><div class="tm" style="top:306.7px"></div>
<div class="tk" style="top:347.5px">0.2</div><div class="tm" style="top:353.0px"></div>
<div class="tk" style="top:393.8px">-0.0</div><div class="tm" style="top:399.3px"></div>
<div class="tk" style="top:440.1px">-0.2</div><div class="tm" style="top:445.6px"></div>
<div class="tk" style="top:486.4px">-0.4</div><div class="tm" style="top:491.9px"></div>
<div class="tk" style="top:532.6px">-0.6</div><div class="tm" style="top:538.1px"></div>
</body></html>
